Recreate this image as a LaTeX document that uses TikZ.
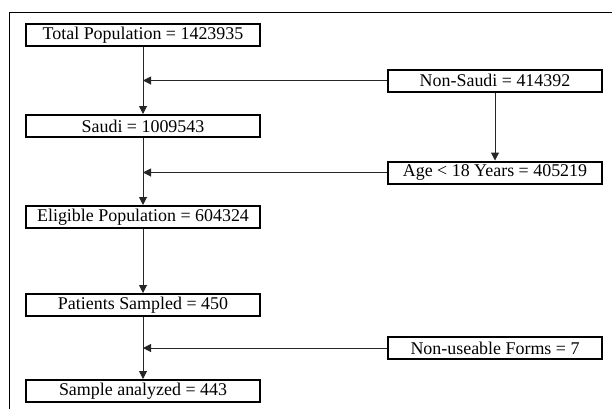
\documentclass[tikz,border=0pt]{standalone}
\usepackage{fontspec}
\setmainfont{Liberation Serif}
\usetikzlibrary{arrows.meta}
\begin{document}
\begin{tikzpicture}[x=1bp,y=-1bp,
  box/.style={draw=black,line width=2bp,fill=white,minimum height=22bp,inner sep=0pt,
    font=\fontsize{18}{20}\selectfont},
  lbox/.style={box,minimum width=234bp},
  rbox/.style={box,minimum width=214bp},
  arr/.style={draw=black!85,line width=1bp,-{Triangle[length=8bp,width=8bp]}},
  ln/.style={draw=black!85,line width=1bp}]
\useasboundingbox (0,0) rectangle (612,409);
\draw[line width=1bp] (9,409) -- (9,12) -- (612,12);
\node[lbox] (total) at (143,35) {Total Population = 1423935};
\node[lbox] (saudi) at (143,126) {Saudi = 1009543};
\node[lbox] (elig) at (143,217) {Eligible Population = 604324};
\node[lbox] (pat) at (143,305) {Patients Sampled = 450};
\node[lbox] (samp) at (143,391) {Sample analyzed = 443};
\node[rbox] (nons) at (495,80.5) {Non-Saudi = 414392};
\node[rbox] (age) at (495,172.5) {Age < 18 Years = 405219};
\node[rbox] (nonu) at (495,348) {Non-useable Forms = 7};
\draw[arr] (total.south) -- (saudi.north);
\draw[arr] (saudi.south) -- (elig.north);
\draw[arr] (elig.south) -- (pat.north);
\draw[arr] (pat.south) -- (samp.north);
\draw[arr] (nons.west) -- (total.south |- nons.west);
\draw[arr] (age.west) -- (saudi.south |- age.west);
\draw[arr] (nonu.west) -- (pat.south |- nonu.west);
\draw[arr] (nons.south) -- (age.north);
\end{tikzpicture}
\end{document}
